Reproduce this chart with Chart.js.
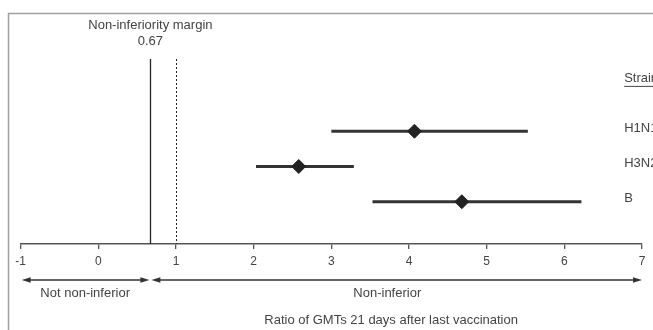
<!DOCTYPE html>
<html>
<head>
<meta charset="utf-8">
<script src="https://cdn.jsdelivr.net/npm/chart.js@4"></script>
<style>
  html, body { margin: 0; padding: 0; background: #fff; }
  #wrap { width: 653px; height: 330px; position: relative; }
</style>
</head>
<body>
<div id="wrap"><canvas id="forestChart"></canvas></div>
<script>
// strains and their GMT ratio with 95% CI
const strains = ["H1N1", "H3N2", "B"];
const ratios = [4.07, 2.58, 4.68];
const lowerCI = [3.0, 2.03, 3.53];
const upperCI = [5.53, 3.29, 6.22];
const rows = [1, 2, 3];

const xTicks = [-1, 0, 1, 2, 3, 4, 5, 6, 7];
const margin = 0.67;
const unity = 1;

const ink = "#333";
const textColor = "#444";
const fontFamily = "'Liberation Sans', Arial, Helvetica, sans-serif";

const ciSets = strains.map((s, i) => ({
    label: s + " CI",
    type: "line",
    data: [{x: lowerCI[i], y: rows[i]}, {x: upperCI[i], y: rows[i]}],
    borderColor: ink,
    borderWidth: 3,
    pointRadius: 0,
    order: 2
}));

const pointSet = {
    label: "Ratio",
    type: "scatter",
    data: strains.map((s, i) => ({x: ratios[i], y: rows[i]})),
    pointStyle: "rectRot",
    pointRadius: 7,
    backgroundColor: "#222",
    borderColor: "#222",
    order: 1
};

function arrow(ctx, x1, x2, y) {
    // double headed arrow between x1 and x2
    const head = 9, half = 2.8;
    ctx.beginPath();
    ctx.moveTo(x1 + head - 1, y);
    ctx.lineTo(x2 - head + 1, y);
    ctx.stroke();
    ctx.beginPath();
    ctx.moveTo(x1, y);
    ctx.lineTo(x1 + head, y - half);
    ctx.lineTo(x1 + head, y + half);
    ctx.closePath();
    ctx.fill();
    ctx.beginPath();
    ctx.moveTo(x2, y);
    ctx.lineTo(x2 - head, y - half);
    ctx.lineTo(x2 - head, y + half);
    ctx.closePath();
    ctx.fill();
}

const decorations = {
    id: "decorations",
    beforeDraw(chart) {
        const ctx = chart.ctx;
        ctx.save();
        ctx.strokeStyle = "#a0a0a0";
        ctx.lineWidth = 1.5;
        ctx.beginPath();
        ctx.moveTo(8.5, chart.height);
        ctx.lineTo(8.5, 13.5);
        ctx.lineTo(chart.width, 13.5);
        ctx.stroke();
        ctx.restore();
    },
    afterDatasetsDraw(chart) {
        const ctx = chart.ctx;
        const xs = chart.scales.x;
        const ys = chart.scales.y;
        const top = chart.chartArea.top;
        const bottom = chart.chartArea.bottom;
        ctx.save();

        // margin line and line of unity
        const xm = Math.round(xs.getPixelForValue(margin)) + 0.5;
        ctx.strokeStyle = "#222";
        ctx.lineWidth = 1.3;
        ctx.beginPath();
        ctx.moveTo(xm, top);
        ctx.lineTo(xm, bottom);
        ctx.stroke();

        const xu = Math.round(xs.getPixelForValue(unity)) + 0.5;
        ctx.lineWidth = 1;
        ctx.setLineDash([2, 2]);
        ctx.beginPath();
        ctx.moveTo(xu, top);
        ctx.lineTo(xu, bottom);
        ctx.stroke();
        ctx.setLineDash([]);

        ctx.fillStyle = textColor;
        ctx.textAlign = "center";
        ctx.textBaseline = "middle";
        ctx.font = "13px " + fontFamily;
        ctx.fillText("Non-inferiority margin", xs.getPixelForValue(margin), 25);
        ctx.fillText("0.67", xs.getPixelForValue(margin), 41);

        // strain labels on the right
        ctx.textAlign = "left";
        const xl = xs.getPixelForValue(6.77);
        strains.forEach((s, i) => {
            ctx.fillText(s, xl, ys.getPixelForValue(rows[i]) - 3);
        });
        const ySt = ys.getPixelForValue(-0.5);
        ctx.fillText("Strain", xl, ySt);
        const w = ctx.measureText("Strain").width;
        ctx.strokeStyle = textColor;
        ctx.lineWidth = 1;
        ctx.beginPath();
        ctx.moveTo(xl, ySt + 8);
        ctx.lineTo(xl + w, ySt + 8);
        ctx.stroke();

        // regions below the axis
        const ya = 280;
        ctx.strokeStyle = "#333";
        ctx.fillStyle = "#333";
        ctx.lineWidth = 1.3;
        arrow(ctx, xs.getPixelForValue(-1) + 1, xs.getPixelForValue(margin) - 1, ya);
        arrow(ctx, xs.getPixelForValue(margin) + 1, xs.getPixelForValue(7), ya);

        ctx.fillStyle = textColor;
        ctx.textAlign = "center";
        ctx.font = "13px " + fontFamily;
        ctx.fillText("Not non-inferior", xs.getPixelForValue(-0.17), 293);
        ctx.fillText("Non-inferior", xs.getPixelForValue(3.72), 293);
        ctx.fillText("Ratio of GMTs 21 days after last vaccination", xs.getPixelForValue(3.77), 320);
        ctx.restore();
    }
};

new Chart(document.getElementById("forestChart"), {
    type: "scatter",
    data: { datasets: [...ciSets, pointSet] },
    options: {
        responsive: true,
        maintainAspectRatio: false,
        animation: false,
        layout: { padding: { left: 20.7, right: 11, top: 59, bottom: 0 } },
        plugins: { legend: { display: false }, tooltip: { enabled: false } },
        scales: {
            x: {
                type: "linear",
                min: -1,
                max: 7,
                afterBuildTicks: (scale) => { scale.ticks = xTicks.map(v => ({value: v})); },
                afterFit: (scale) => { scale.height = 86; },
                border: { display: true, color: "#555", width: 1.5 },
                grid: { drawOnChartArea: false, drawTicks: true, tickLength: 5, color: "#555", lineWidth: 1.3 },
                ticks: { color: textColor, padding: 5, font: { size: 12, family: fontFamily } }
            },
            y: {
                type: "linear",
                display: false,
                reverse: true,
                min: -1.05,
                max: 4.2
            }
        }
    },
    plugins: [decorations]
});
</script>
</body>
</html>
